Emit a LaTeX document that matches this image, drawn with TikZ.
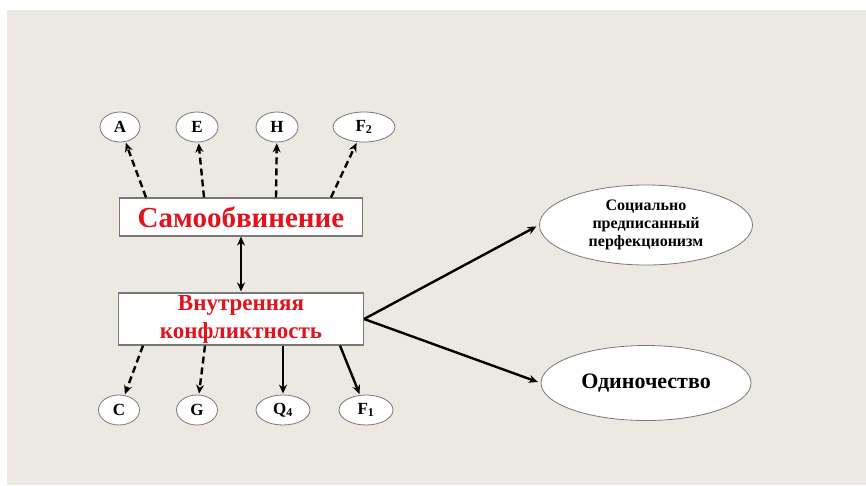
\documentclass[tikz,border=0pt]{standalone}
\usepackage{fontspec}
\setmainfont{Liberation Serif}
\usetikzlibrary{arrows.meta,shapes.geometric}
\definecolor{paper}{RGB}{236,233,226}
\definecolor{rim}{RGB}{120,120,120}
\definecolor{boxred}{RGB}{225,20,30}

\begin{document}
\begin{tikzpicture}[x=1pt,y=-1pt,>={Stealth[length=9pt,width=8pt,inset=3pt]},
	line width=2.4pt,shorten >=1pt,
	main node/.style={ellipse,draw=rim,fill=white,line width=0.8pt,inner sep=0pt,
		minimum height=30pt,font=\bfseries\fontsize{17}{17}\selectfont},
	big node/.style={ellipse,draw=rim,fill=white,line width=0.8pt,inner sep=0pt,align=center},
	box node/.style={rectangle,draw=rim,fill=white,line width=1.2pt,inner sep=0pt,
		text=boxred,align=center},
	dash edge/.style={->,dash pattern=on 7pt off 4pt}]
	
	\fill[white] (0,0) rectangle (866,485);
	\fill[paper] (7,10) rectangle (866,485);
	
	\node[main node,minimum width=40pt] (A) at (120,127) {A};
	\node[main node,minimum width=42pt] (E) at (197,127) {E};
	\node[main node,minimum width=42pt] (H) at (277,127) {H};
	\node[main node,minimum width=62pt] (F2) at (364,127) {F\textsubscript{2}};
	
	\node[box node,minimum width=243pt,minimum height=38pt,
		font=\bfseries\fontsize{29}{30}\selectfont] (self) at (241,217) {Самообвинение};
	\node[box node,minimum width=245pt,minimum height=52pt,
		font=\bfseries\fontsize{23}{28}\selectfont] (conf) at (241,319) {Внутренняя\\конфликтность};
	
	\node[main node,minimum width=41pt] (C) at (119,410) {C};
	\node[main node,minimum width=41pt] (G) at (197,410) {G};
	\node[main node,minimum width=54pt] (Q4) at (283,410) {Q\textsubscript{4}};
	\node[main node,minimum width=54pt] (F1) at (366,410) {F\textsubscript{1}};
	
	\node[big node,minimum width=213pt,minimum height=80pt,
		font=\bfseries\fontsize{16}{18}\selectfont] (soc) at (646,225)
		{Социально\\предписанный\\перфекционизм};
	\node[big node,minimum width=210pt,minimum height=75pt,
		font=\bfseries\fontsize{22}{24}\selectfont] (lone) at (646,383) {Одиночество};
	
	\path
	([xshift=-95pt]self.north) edge [dash edge] (A)
	([xshift=-37pt]self.north) edge [dash edge] (E)
	([xshift=35pt]self.north)  edge [dash edge] (H)
	([xshift=90pt]self.north)  edge [dash edge] (F2)
	(self) edge [<->] (conf)
	([xshift=-98pt]conf.south) edge [dash edge] (C)
	([xshift=-36pt]conf.south) edge [dash edge] (G)
	([xshift=42pt]conf.south)  edge [->] (Q4)
	([xshift=99pt]conf.south)  edge [->] (F1)
	(conf.east) edge [->,shorten >=3pt] (soc.west)
	edge [->,shorten >=3pt] (lone.west);
	
\end{tikzpicture}
\end{document}
